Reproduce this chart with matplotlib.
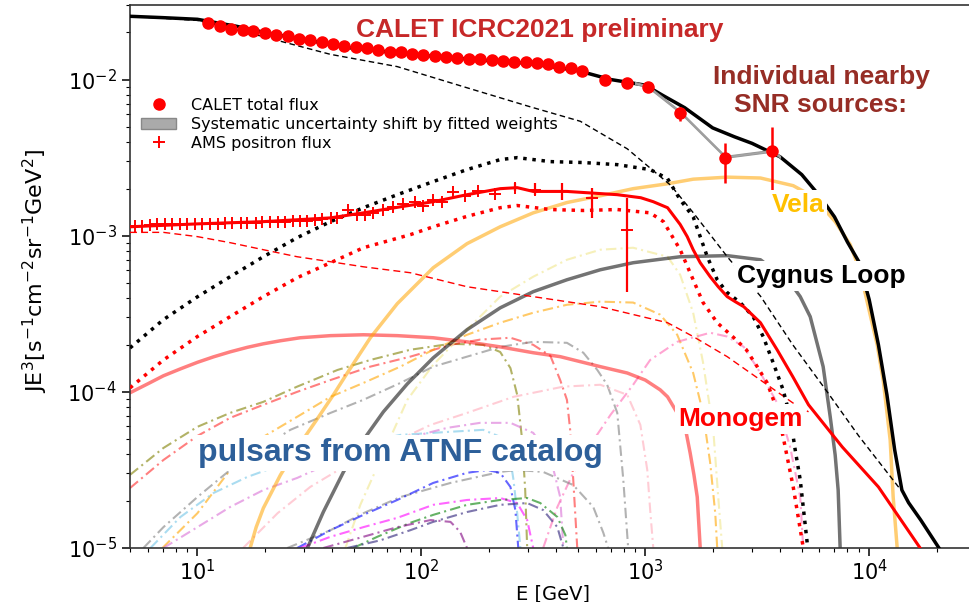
import matplotlib.pyplot as plt
from matplotlib.lines import Line2D
from matplotlib.patches import Patch

# ---- total e+e- model and CALET data (E^3 weighted flux) ----
total_e = [5, 7, 10, 15, 20, 30, 50, 100, 200, 300, 500, 700, 1000, 1200, 1500,
           2000, 2500, 3000, 4000, 5000, 6000, 7000, 8000, 9000, 10000, 11000,
           12000, 13000, 14000, 15000, 17000, 20500]
total_f = [0.0254, 0.0249, 0.0243, 0.0219, 0.0200, 0.0180, 0.0158, 0.0143, 0.0132,
           0.0127, 0.0114, 0.0100, 0.0092, 0.0079, 0.0066, 0.0049, 0.0043, 0.0039,
           0.0032, 0.00246, 0.00180, 0.00132, 0.00091, 0.00068, 0.00039, 0.00020,
           9.6e-5, 4.25e-5, 2.35e-5, 1.95e-5, 1.51e-5, 1.0e-5]

primary_e = [5, 10, 16.7, 39.2, 78, 154, 305, 513, 831, 1300, 1640, 2330, 3270,
             4560, 6400, 9000, 13700]
primary_f = [0.0254, 0.0239, 0.0200, 0.0145, 0.0121, 0.0090, 0.0067, 0.0054, 0.0036,
             0.0021, 0.0014, 0.00073, 0.00041, 0.00020, 0.000103, 5.2e-5, 2.4e-5]

calet_e = [11.2, 12.6, 14.1, 15.9, 17.8, 20.0, 22.5, 25.3, 28.4, 31.9, 35.9, 40.3,
           45.3, 50.9, 57.2, 64.3, 72.2, 81.1, 91.2, 102, 115, 129, 145, 163, 183,
           206, 231, 260, 292, 328, 369, 414, 466, 523, 663, 831, 1031, 1432, 2277,
           3690]
calet_f = [0.0229, 0.0220, 0.0212, 0.0208, 0.0203, 0.0199, 0.0193, 0.0189, 0.0183,
           0.0178, 0.0173, 0.0169, 0.0165, 0.0162, 0.0158, 0.0155, 0.0151, 0.0149,
           0.0146, 0.0144, 0.0142, 0.0139, 0.0137, 0.0136, 0.0135, 0.0134, 0.0132,
           0.0130, 0.0129, 0.0128, 0.0125, 0.0121, 0.0118, 0.0114, 0.0100, 0.0095,
           0.0090, 0.00614, 0.00316, 0.00346]
calet_bar_e = [1432, 2277, 3690]
calet_bar_lo = [0.00546, 0.00219, 0.00183]
calet_bar_hi = [0.00662, 0.00395, 0.00493]

syst_e = [900, 1031, 1432, 2277, 3690, 4000]
syst_f = [0.0095, 0.0090, 0.0062, 0.0032, 0.0035, 0.0032]

# ---- positron model and AMS data ----
pos_e = [5, 10, 19.7, 39.3, 55.1, 80.6, 113, 160, 225, 268, 316, 447, 750, 955,
         1086, 1258, 1432, 1540, 1637, 1760, 1950, 2118, 2323, 2522, 2754, 3270,
         3880, 4560, 5360, 7590, 11000, 16890]
pos_f = [0.00114, 0.00119, 0.00123, 0.00130, 0.00140, 0.00153, 0.00165, 0.00183,
         0.00200, 0.00203, 0.00192, 0.00192, 0.00183, 0.00175, 0.00165, 0.00151,
         0.00118, 0.000986, 0.000813, 0.000671, 0.000546, 0.000471, 0.000407,
         0.000378, 0.000351, 0.000277, 0.000186, 0.000125, 8.26e-5, 4.43e-5,
         2.46e-5, 1.0e-5]

pos_sec_e = [5, 7.05, 10, 14.0, 19.7, 27.9, 39.3, 55.1, 89.3, 113, 160, 225, 268,
             377, 529, 750, 1052, 1206, 1432, 1637, 1812, 2096, 2455, 2828, 3162,
             3505, 3880, 4128, 4580, 5075]
pos_sec_f = [0.000106, 0.000160, 0.000226, 0.000303, 0.000407, 0.000538, 0.000671,
             0.000837, 0.001015, 0.00114, 0.00133, 0.00151, 0.00156, 0.00147,
             0.00145, 0.00147, 0.00140, 0.00123, 0.000813, 0.000522, 0.000373,
             0.000277, 0.000226, 0.000186, 0.000145, 0.000114, 7.67e-5, 5.15e-5,
             2.46e-5, 1.01e-5]

pos_dash_e = [5, 7.05, 10, 14.0, 19.7, 27.9, 39.3, 55.1, 89.3, 160, 316, 630, 1258,
              1637, 2323, 3270, 4560, 5360]
pos_dash_f = [0.00105, 0.00105, 0.000986, 0.000902, 0.000813, 0.000733, 0.000681,
              0.000632, 0.000579, 0.000471, 0.000407, 0.000351, 0.000277, 0.000226,
              0.000168, 0.000119, 8.5e-5, 7.45e-5]

tot_dot_e = [5, 7.05, 10, 14.0, 19.7, 27.9, 39.3, 55.1, 78.1, 113, 160, 225, 268,
             377, 529, 750, 1052, 1258, 1432, 1637, 1760, 1893, 2096, 2323, 2655,
             3034, 3362, 3724, 4128, 4438, 4674, 4922, 5287]
tot_dot_f = [0.000191, 0.000290, 0.000406, 0.000546, 0.000733, 0.000971, 0.00123,
             0.00151, 0.00183, 0.00222, 0.00265, 0.00307, 0.00316, 0.00298, 0.00294,
             0.00285, 0.00265, 0.00232, 0.00170, 0.00132, 0.000986, 0.000733,
             0.000522, 0.000432, 0.000373, 0.000303, 0.000226, 0.000154, 0.000103,
             6.92e-5, 4.25e-5, 2.73e-5, 1.08e-5]

ams_e = [5.29, 5.68, 6.17, 6.63, 7.20, 7.73, 8.40, 9.02, 9.80, 10.5, 11.4, 12.3, 13.3,
         14.3, 15.6, 16.7, 18.2, 19.5, 21.2, 22.8, 24.7, 26.6, 28.8, 31.0, 33.6, 36.1,
         39.3, 42.2, 47.2, 51.8, 56.2, 61.1, 67.7, 75.0, 83.1, 94.0, 102, 113, 124,
         139, 157, 180, 214, 263, 323, 426, 580, 831]
ams_f = [0.00116, 0.00116, 0.00117, 0.00118, 0.00118, 0.00118, 0.00119, 0.00119,
         0.00119, 0.00119, 0.00119, 0.00119, 0.00120, 0.00120, 0.00121, 0.00121,
         0.00121, 0.00122, 0.00122, 0.00123, 0.00123, 0.00124, 0.00124, 0.00125,
         0.00126, 0.00127, 0.00129, 0.00130, 0.00145, 0.00136, 0.00136, 0.00140,
         0.00147, 0.00153, 0.00160, 0.00165, 0.00156, 0.00168, 0.00165, 0.00189,
         0.00180, 0.00192, 0.00186, 0.00203, 0.00197, 0.00192, 0.00175, 0.00109]
ams_bar_e = [263, 323, 426, 580, 831]
ams_bar_lo = [0.00192, 0.00183, 0.00170, 0.00130, 0.000433]
ams_bar_hi = [0.00219, 0.00219, 0.00219, 0.00203, 0.00175]

# ---- nearby SNRs ----
monogem_e = [5, 6.0, 7.05, 8.4, 10, 11.8, 14.0, 16.7, 19.7, 23.5, 28.8, 39.3, 55.1,
             78.1, 113, 160, 225, 316, 417, 630, 831, 1000, 1166, 1258, 1389, 1500,
             1587, 1650, 1707, 1760]
monogem_f = [9.86e-5, 0.0001125, 0.0001267, 0.0001403, 0.0001545, 0.0001675,
             0.0001803, 0.0001927, 0.000203, 0.0002124, 0.000222, 0.000229,
             0.000232, 0.000229, 0.000222, 0.000209, 0.000194, 0.000178, 0.000168,
             0.000145, 0.000132, 0.000119, 0.000103, 9.29e-5, 7.33e-5, 6.14e-5,
             4.06e-5, 2.94e-5, 2.12e-5, 1.0e-5]

vela_e = [17.2, 18.3, 19.7, 23.5, 27.9, 34.3, 40.5, 46.7, 59.2, 78.1, 113, 160, 225,
          316, 447, 630, 883, 1258, 1637, 2323, 3270, 4580, 5623, 7050, 8230, 9120,
          10100, 10860, 11550, 12410, 12800, 13340]
vela_f = [1.0e-5, 1.36e-5, 1.80e-5, 2.94e-5, 4.37e-5, 6.71e-5, 9.57e-5, 0.000132,
          0.000222, 0.000367, 0.000623, 0.000889, 0.00114, 0.00140, 0.00163,
          0.00180, 0.00200, 0.00215, 0.00230, 0.00237, 0.00234, 0.00209, 0.00178,
          0.00123, 0.000876, 0.000588, 0.000312, 0.000200, 0.000119, 4.92e-5,
          2.12e-5, 1.0e-5]

cygnus_e = [31.0, 36.5, 44.9, 55.1, 67.7, 86.6, 113, 160, 225, 316, 447, 630, 883,
            1432, 2323, 3270, 4438, 4922, 5454, 6230, 6700, 7050, 7270, 7420]
cygnus_f = [1.0e-5, 1.70e-5, 3.07e-5, 4.92e-5, 7.45e-5, 0.0001125, 0.000165,
            0.000250, 0.000345, 0.000438, 0.000522, 0.000605, 0.000671, 0.000733,
            0.000745, 0.000701, 0.000500, 0.000407, 0.000303, 0.000145, 6.92e-5,
            3.94e-5, 2.35e-5, 1.0e-5]

# ---- ATNF pulsars ----
psr_olive_e = [5, 7.05, 10, 14.0, 19.7, 27.9, 42.2, 59.2, 89.3, 135, 189, 225, 250,
               268, 282, 291, 297]
psr_olive_f = [2.94e-5, 4.37e-5, 5.97e-5, 7.33e-5, 8.63e-5, 0.000108, 0.000138,
               0.000160, 0.000186, 0.000203, 0.000200, 0.000180, 0.000142, 9.57e-5,
               4.92e-5, 2.35e-5, 1.0e-5]
psr_red_e = [5, 7.05, 10, 14.0, 19.7, 27.9, 39.3, 59.2, 89.3, 135, 183, 250, 316, 377,
             417, 447, 462, 477, 497]
psr_red_f = [2.42e-5, 3.66e-5, 5.22e-5, 6.81e-5, 8.26e-5, 0.000100, 0.000119,
             0.000145, 0.000168, 0.000200, 0.000216, 0.000222, 0.000200, 0.000170,
             0.000119, 8.89e-5, 5.71e-5, 2.73e-5, 1.0e-5]
psr_orange_e = [6.98, 10, 14.0, 19.7, 27.9, 39.3, 55.1, 80.6, 113, 160, 225, 316, 447,
                630, 883, 1166, 1389, 1637, 1812, 1950, 2054, 2096]
psr_orange_f = [1.0e-5, 1.67e-5, 3.16e-5, 5.15e-5, 6.92e-5, 9.29e-5, 0.000114,
                0.000145, 0.000186, 0.000232, 0.000277, 0.000321, 0.000361, 0.000378,
                0.000373, 0.000312, 0.000232, 0.000132, 7.33e-5, 3.51e-5, 1.67e-5,
                1.0e-5]
psr_khaki_e = [45.8, 53.4, 65.6, 86.6, 113, 160, 225, 316, 447, 630, 883, 1258, 1432,
               1637, 1812, 2013, 2118, 2207]
psr_khaki_f = [1.0e-5, 1.89e-5, 3.66e-5, 8.89e-5, 0.000149, 0.000250, 0.000407,
               0.000546, 0.000701, 0.000813, 0.000837, 0.000733, 0.000562, 0.000321,
               0.000154, 5.71e-5, 2.12e-5, 1.0e-5]
psr_gray_e = [5.74, 7.05, 10, 14.0, 19.7, 26.0, 39.3, 55.1, 80.6, 113, 160, 225, 316,
              447, 529, 611, 676, 750, 798, 839]
psr_gray_f = [1.0e-5, 1.36e-5, 2.12e-5, 3.16e-5, 4.43e-5, 5.71e-5, 7.33e-5, 8.89e-5,
              0.000114, 0.000145, 0.000168, 0.000194, 0.000209, 0.000206, 0.000178,
              0.000138, 0.000111, 7.33e-5, 2.73e-5, 1.0e-5]
psr_sky_e = [6.17, 8.40, 11.8, 16.7, 23.5, 39.3, 80.6, 135, 189, 225, 250, 258, 268,
             277]
psr_sky_f = [1.0e-5, 1.58e-5, 2.25e-5, 2.85e-5, 3.40e-5, 4.25e-5, 5.30e-5, 5.55e-5,
             5.71e-5, 5.15e-5, 3.66e-5, 2.73e-5, 1.67e-5, 1.0e-5]
psr_orchid_e = [7.05, 10, 14.0, 19.7, 27.9, 39.3, 80.6, 130.6, 183, 250, 316, 377,
                417, 431]
psr_orchid_f = [1.0e-5, 1.36e-5, 1.83e-5, 2.35e-5, 2.81e-5, 3.51e-5, 4.92e-5,
                5.88e-5, 6.33e-5, 6.33e-5, 5.46e-5, 3.83e-5, 2.12e-5, 1.0e-5]
psr_pink_e = [16.0, 22.8, 31.9, 44.9, 67.7, 110, 160, 258, 431, 630, 831, 951, 1021,
              1052, 1086]
psr_pink_f = [1.0e-5, 1.67e-5, 2.46e-5, 3.30e-5, 4.43e-5, 6.14e-5, 7.33e-5, 9.29e-5,
              0.000108, 0.000111, 9.57e-5, 6.14e-5, 3.16e-5, 1.75e-5, 1.0e-5]
psr_hotpink_e = [350, 405, 477, 568, 700, 883, 1052, 1389, 1950, 2323, 2754, 3270,
                 3880, 4438, 4922, 5075]
psr_hotpink_f = [1.0e-5, 1.83e-5, 3.03e-5, 4.57e-5, 7.13e-5, 0.000111, 0.000160,
                 0.000209, 0.000239, 0.000226, 0.000194, 0.000132, 8.5e-5, 4.43e-5,
                 2.12e-5, 1.0e-5]
psr_gray2_e = [25.2, 39.3, 55.1, 80.6, 135, 225, 268, 350, 477, 586, 650, 683]
psr_gray2_f = [1.0e-5, 1.30e-5, 1.67e-5, 2.12e-5, 2.61e-5, 3.07e-5, 3.16e-5, 3.07e-5,
               2.53e-5, 1.83e-5, 1.25e-5, 1.0e-5]
psr_blue_e = [27.9, 39.3, 55.1, 78.1, 113, 160, 197, 225, 250, 263, 271]
psr_blue_f = [1.0e-5, 1.30e-5, 1.63e-5, 2.03e-5, 2.61e-5, 3.03e-5, 3.16e-5, 3.03e-5,
              2.46e-5, 1.75e-5, 1.0e-5]
psr_magenta_e = [28.8, 39.3, 55.1, 78.1, 113, 160, 225, 268, 297, 316]
psr_magenta_f = [1.0e-5, 1.18e-5, 1.36e-5, 1.56e-5, 1.89e-5, 2.03e-5, 2.09e-5,
                 1.94e-5, 1.51e-5, 1.0e-5]
psr_green_e = [49.7, 63.6, 89.3, 113, 160, 225, 297, 340, 405, 440, 447]
psr_green_f = [1.0e-5, 1.18e-5, 1.45e-5, 1.63e-5, 1.89e-5, 2.03e-5, 2.09e-5, 1.94e-5,
               1.58e-5, 1.21e-5, 1.0e-5]
psr_slate_e = [46.7, 65.6, 89.3, 113, 160, 225, 297, 350, 405, 431]
psr_slate_f = [1.0e-5, 1.12e-5, 1.30e-5, 1.47e-5, 1.70e-5, 1.89e-5, 1.94e-5, 1.75e-5,
               1.36e-5, 1.0e-5]
psr_purple_e = [36.5, 55.1, 78.1, 110, 135, 149, 160]
psr_purple_f = [1.0e-5, 1.18e-5, 1.36e-5, 1.51e-5, 1.47e-5, 1.27e-5, 1.0e-5]

pulsars = [
    (psr_olive_e, psr_olive_f, 'olive', 0.6),
    (psr_red_e, psr_red_f, 'red', 0.5),
    (psr_orange_e, psr_orange_f, 'orange', 0.6),
    (psr_khaki_e, psr_khaki_f, 'khaki', 0.6),
    (psr_gray_e, psr_gray_f, 'gray', 0.6),
    (psr_sky_e, psr_sky_f, 'skyblue', 0.7),
    (psr_orchid_e, psr_orchid_f, 'orchid', 0.6),
    (psr_pink_e, psr_pink_f, 'pink', 0.8),
    (psr_hotpink_e, psr_hotpink_f, 'hotpink', 0.6),
    (psr_gray2_e, psr_gray2_f, 'gray', 0.6),
    (psr_blue_e, psr_blue_f, 'blue', 0.6),
    (psr_magenta_e, psr_magenta_f, 'magenta', 0.6),
    (psr_green_e, psr_green_f, 'green', 0.6),
    (psr_slate_e, psr_slate_f, 'darkslateblue', 0.7),
    (psr_purple_e, psr_purple_f, 'purple', 0.6),
]

W, H = 969, 602
fig = plt.figure(figsize=(W / 100, H / 100), dpi=100)
ax = fig.add_axes([130 / W, 1 - 548 / H, 846 / W, 543 / H])
ax.set_xscale('log')
ax.set_yscale('log')

dashdot = (0, (5, 2, 1, 2))
for e, f, c, a in pulsars:
    ax.plot(e, f, color=c, alpha=a, lw=1.5, ls=dashdot, zorder=1)

ax.plot(monogem_e, monogem_f, color='red', alpha=0.5, lw=2.5, zorder=2)
ax.plot(vela_e, vela_f, color='orange', alpha=0.55, lw=2.5, zorder=2)
ax.plot(cygnus_e, cygnus_f, color='black', alpha=0.55, lw=2.5, zorder=2)

ax.plot(pos_dash_e, pos_dash_f, color='red', lw=1, ls=(0, (5, 3)), zorder=3)
ax.plot(pos_sec_e, pos_sec_f, color='red', lw=2.5, ls=':', zorder=3)
ax.plot(tot_dot_e, tot_dot_f, color='black', lw=2.5, ls=':', zorder=3)
ax.plot(primary_e, primary_f, color='black', lw=1, ls=(0, (4, 2.5)), zorder=3)
ax.plot(pos_e, pos_f, color='red', lw=2.2, zorder=4)
ax.plot(total_e, total_f, color='black', lw=2.5, zorder=4)

ax.fill_between(syst_e, [v * 0.985 for v in syst_f], [v * 1.015 for v in syst_f],
                facecolor='#aaaaaa', edgecolor='#999999', lw=0.8, zorder=4)

ax.plot(ams_e, ams_f, ls='none', marker='+', ms=9, mew=1.4, color='red', zorder=5)
ax.vlines(ams_bar_e, ams_bar_lo, ams_bar_hi, color='red', lw=1.6, zorder=5)
ax.plot(calet_e, calet_f, ls='none', marker='o', ms=8, color='red', zorder=6)
ax.vlines(calet_bar_e, calet_bar_lo, calet_bar_hi, color='red', lw=1.8, zorder=6)

ax.set_xlim(5, 3e4)
ax.set_ylim(1e-5, 3.0e-2)
ax.tick_params(which='major', length=6, width=1.1, labelsize=15, direction='out')
ax.tick_params(which='minor', length=3, width=0.8, direction='out')
ax.tick_params(axis='x', which='major', pad=2)
for s in ax.spines.values():
    s.set_color('#333333')
    s.set_linewidth(1.2)

ax.set_xlabel('E [GeV]', fontsize=14, labelpad=0)
ax.set_ylabel(r'JE$^3$[s$^{-1}$cm$^{-2}$sr$^{-1}$GeV$^2$]', fontsize=16)
ax.yaxis.set_label_coords(-0.095, 0.51)

handles = [
    Line2D([], [], ls='none', marker='o', ms=8, color='red'),
    Patch(facecolor='#aaaaaa', edgecolor='#888888'),
    Line2D([], [], ls='none', marker='+', ms=8, mew=1.4, color='red'),
]
labels = ['CALET total flux', 'Systematic uncertainty shift by fitted weights',
          'AMS positron flux']
ax.legend(handles, labels, loc='upper left', bbox_to_anchor=(0.0, 0.8495),
          frameon=False, fontsize=11.5, labelspacing=0.25, handlelength=2.2,
          handletextpad=0.9, borderaxespad=0.3)

arial = 'Liberation Sans'
box = dict(facecolor='white', edgecolor='none', pad=2)
fig.text(540 / W, 1 - 30 / H, 'CALET ICRC2021 preliminary', color='#c62828',
         fontsize=19, fontweight='bold', family=arial, ha='center', va='center')
fig.text(821 / W, 1 - 91 / H, 'Individual nearby\nSNR sources:', color='#962d25',
         fontsize=19, fontweight='bold', family=arial, ha='center', va='center',
         linespacing=1.25)
fig.text(798 / W, 1 - 205 / H, 'Vela', color='#ffc000', fontsize=19,
         fontweight='bold', family=arial, ha='center', va='center', bbox=box,
         zorder=10)
fig.text(821 / W, 1 - 276 / H, 'Cygnus Loop', color='black', fontsize=19,
         fontweight='bold', family=arial, ha='center', va='center', bbox=box,
         zorder=10)
fig.text(740 / W, 1 - 419 / H, 'Monogem', color='red', fontsize=19,
         fontweight='bold', family=arial, ha='center', va='center', bbox=box,
         zorder=10)
fig.text(400 / W, 1 - 453 / H, 'pulsars from ATNF catalog', color='#2d5f99',
         fontsize=23, fontweight='bold', family=arial, ha='center', va='center',
         bbox=box, zorder=10)

fig.savefig('out.png', dpi=100)
